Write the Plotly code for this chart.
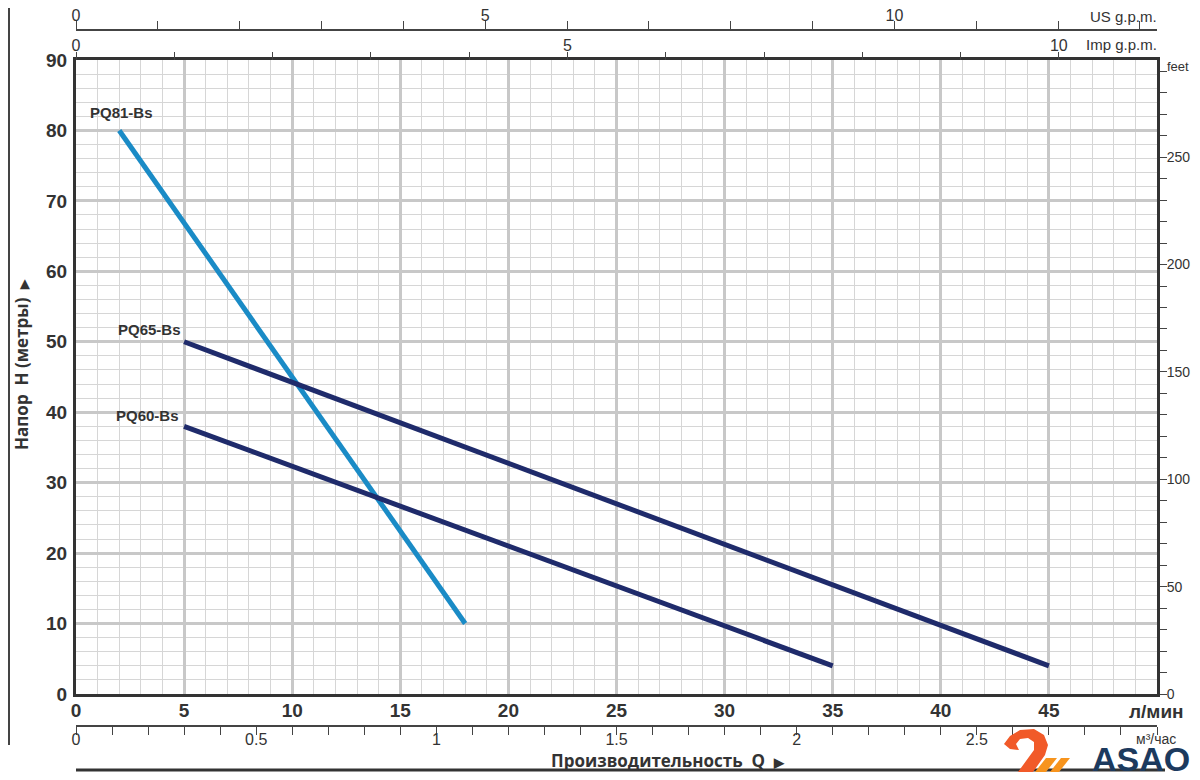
import plotly.graph_objects as go

# ---- data ----
pq81_q = [2, 18]
pq81_h = [80, 10]
pq65_q = [5, 45]
pq65_h = [50, 4]
pq60_q = [5, 35]
pq60_h = [38, 4]
series_names = ["PQ81-Bs", "PQ65-Bs", "PQ60-Bs"]

x_ticks = [0, 5, 10, 15, 20, 25, 30, 35, 40, 45]
y_ticks = [0, 10, 20, 30, 40, 50, 60, 70, 80, 90]
m3h_ticks = [0, 0.5, 1, 1.5, 2, 2.5]
m3h_text = ["0", "0.5", "1", "1.5", "2", "2.5"]
feet_ticks = [0, 50, 100, 150, 200, 250]

Q_MAX = 50.0
H_MAX = 90.0
L_PER_USG = 3.78541
L_PER_IMPG = 4.54609
FT_PER_M = 3.28084

# ---- layout helpers (target window pixels -> paper) ----
OFF = 8  # page body margin
W, H = 1200 - OFF, 780 - 2 * OFF
ML = 76 - OFF
MR = W - (1157 - OFF)
MT, MB = 2, 2
PW, PH = W - ML - MR, H - MT - MB


def px(x):
    return (x - OFF - ML) / PW


def py(y):
    return (H - MB - (y - OFF)) / PH


NARROW = "Liberation Sans Narrow, Liberation Sans, Arial, sans-serif"
TXT = "#333333"
LIGHT_BLUE = "#1a8bc6"
NAVY = "#1f2b6b"

fig = go.Figure()
fig.add_trace(go.Scatter(x=pq81_q, y=pq81_h, mode="lines", name=series_names[0],
                         line=dict(color=LIGHT_BLUE, width=5), showlegend=False))
fig.add_trace(go.Scatter(x=pq65_q, y=pq65_h, mode="lines", name=series_names[1],
                         line=dict(color=NAVY, width=5), showlegend=False))
fig.add_trace(go.Scatter(x=pq60_q, y=pq60_h, mode="lines", name=series_names[2],
                         line=dict(color=NAVY, width=5), showlegend=False))
# invisible traces to activate secondary axes
for xa, ya in [("x2", "y"), ("x3", "y"), ("x4", "y"), ("x", "y2")]:
    fig.add_trace(go.Scatter(x=[0], y=[0], xaxis=xa, yaxis=ya, mode="markers",
                             marker=dict(opacity=0), showlegend=False, hoverinfo="skip"))

y_dom = [py(694), py(60)]

sec_tickfont = dict(family=NARROW, size=16, color=TXT)

fig.update_layout(
    template="none",
    width=W, height=H,
    margin=dict(l=ML, r=MR, t=MT, b=MB, autoexpand=False),
    paper_bgcolor="white", plot_bgcolor="white",
    xaxis=dict(domain=[0, 1], range=[0, Q_MAX], tickvals=x_ticks, showgrid=True,
               gridcolor="#c8c8c8", gridwidth=2.5,
               minor=dict(dtick=1, showgrid=True, gridcolor="#d6d6d6", gridwidth=1),
               showline=True, linecolor="#333333", linewidth=3, mirror=True,
               ticks="", zeroline=False, automargin=False, ticklabelstandoff=-3,
               tickfont=dict(family=NARROW, size=19, color=TXT, weight="bold")),
    yaxis=dict(domain=y_dom, range=[0, H_MAX], tickvals=y_ticks, showgrid=True,
               gridcolor="#c8c8c8", gridwidth=2.5,
               minor=dict(dtick=2, showgrid=True, gridcolor="#d6d6d6", gridwidth=1),
               showline=True, linecolor="#333333", linewidth=3, mirror=True,
               ticks="", zeroline=False, automargin=False, ticklabelstandoff=2,
               tickfont=dict(family=NARROW, size=19, color=TXT, weight="bold")),
    # US g.p.m. (top)
    xaxis2=dict(overlaying="x", anchor="free", position=py(30), side="top",
                range=[0, Q_MAX / L_PER_USG], tickvals=[0, 5, 10], ticks="outside",
                ticklen=8, tickcolor="#444", showgrid=False, zeroline=False,
                minor=dict(dtick=1, ticks="outside", ticklen=8, tickcolor="#444", showgrid=False),
                showline=True, linecolor="#444", linewidth=1.5, automargin=False,
                ticklabelstandoff=-6, tickfont=sec_tickfont),
    # Imp g.p.m. (top of plot)
    xaxis3=dict(overlaying="x", anchor="free", position=py(60), side="top",
                range=[0, Q_MAX / L_PER_IMPG], tickvals=[0, 5, 10], ticks="outside",
                ticklen=8, tickcolor="#444", showgrid=False, zeroline=False,
                minor=dict(dtick=1, ticks="outside", ticklen=8, tickcolor="#444", showgrid=False),
                showline=False, automargin=False, ticklabelstandoff=-5,
                tickfont=sec_tickfont),
    # m3/h (below)
    xaxis4=dict(overlaying="x", anchor="free", position=py(726), side="bottom",
                range=[0, Q_MAX * 0.06], tickvals=m3h_ticks, ticktext=m3h_text,
                ticks="outside", ticklen=8, tickcolor="#444", showgrid=False, zeroline=False,
                minor=dict(dtick=0.1, ticks="outside", ticklen=8, tickcolor="#444", showgrid=False),
                showline=True, linecolor="#444", linewidth=1.5, automargin=False,
                ticklabelstandoff=-9, tickfont=sec_tickfont),
    # feet (right)
    yaxis2=dict(overlaying="y", side="right", anchor="x",
                range=[0, H_MAX * FT_PER_M], tickvals=feet_ticks, ticks="outside",
                ticklen=7, tickcolor="#444", showgrid=False, zeroline=False,
                minor=dict(dtick=10, ticks="outside", ticklen=7, tickcolor="#444", showgrid=False),
                showline=True, linecolor="#333333", linewidth=3, automargin=False,
                ticklabelstandoff=-3, tickfont=dict(family=NARROW, size=14, color=TXT)),
)

ann = []
lab_font = dict(family=NARROW, size=15, color=TXT, weight="bold")
ann.append(dict(x=pq81_q[0], y=pq81_h[0], xref="x", yref="y", text=series_names[0],
                showarrow=False, xanchor="center", yanchor="bottom", yshift=7, xshift=2,
                font=lab_font))
ann.append(dict(x=pq65_q[0], y=pq65_h[0], xref="x", yref="y", text=series_names[1],
                showarrow=False, xanchor="right", yanchor="bottom", yshift=2, xshift=-1,
                font=lab_font))
ann.append(dict(x=pq60_q[0], y=pq60_h[0], xref="x", yref="y", text=series_names[2],
                showarrow=False, xanchor="right", yanchor="bottom", yshift=0, xshift=-3,
                font=lab_font))
# unit labels
ann.append(dict(x=px(1159), y=py(16), xref="paper", yref="paper", text="US g.p.m.",
                showarrow=False, xanchor="right", yanchor="middle",
                font=dict(family=NARROW, size=15, color=TXT)))
ann.append(dict(x=px(1159), y=py(45), xref="paper", yref="paper", text="Imp g.p.m.",
                showarrow=False, xanchor="right", yanchor="middle",
                font=dict(family=NARROW, size=15, color=TXT)))
ann.append(dict(x=px(1165), y=py(66), xref="paper", yref="paper", text="feet",
                showarrow=False, xanchor="left", yanchor="middle",
                font=dict(family=NARROW, size=13, color=TXT)))
ann.append(dict(x=px(1186), y=py(711), xref="paper", yref="paper", text="л/мин",
                showarrow=False, xanchor="right", yanchor="middle",
                font=dict(family=NARROW, size=19, color=TXT, weight="bold")))
ann.append(dict(x=px(1178), y=py(739), xref="paper", yref="paper", text="м³/час",
                showarrow=False, xanchor="right", yanchor="middle",
                font=dict(family=NARROW, size=14, color=TXT)))
# axis titles
ann.append(dict(x=px(668), y=py(760), xref="paper", yref="paper",
                text="Производительность  Q  <span style='font-size:13px'>▶</span>",
                showarrow=False, xanchor="center", yanchor="middle",
                font=dict(family="Open Sans, Noto Sans, sans-serif", size=17, color=TXT,
                          weight="bold")))
ann.append(dict(x=px(22), y=py(365), xref="paper", yref="paper",
                text="Напор  H (метры)  <span style='font-size:12px'>▶</span>", textangle=-90,
                showarrow=False, xanchor="center", yanchor="middle",
                font=dict(family="Open Sans, Noto Sans, sans-serif", size=17, color=TXT,
                          weight="bold")))
# logo text
ann.append(dict(x=px(1192), y=py(759), xref="paper", yref="paper", text="ASAO",
                showarrow=False, xanchor="right", yanchor="middle",
                font=dict(family="Liberation Sans, Arial, sans-serif", size=34,
                          color="#1c3a5e", weight="bold")))

shapes = []
# left frame line and bottom rule
shapes.append(dict(type="line", xref="paper", yref="paper", x0=px(9), x1=px(9),
                   y0=py(8), y1=py(745), line=dict(color="#444", width=2)))
shapes.append(dict(type="line", xref="paper", yref="paper", x0=px(76), x1=px(1165),
                   y0=py(770), y1=py(770), line=dict(color="#333", width=3)))


def path(pts, close=True):
    s = "M " + " L ".join(f"{px(a):.5f},{py(b):.5f}" for a, b in pts)
    return s + (" Z" if close else "")


# logo swan hook (orange)
shapes.append(dict(type="path", xref="paper", yref="paper",
                   path=path([(1004, 744), (1010, 736), (1020, 730), (1034, 729), (1044, 735),
                              (1048, 745), (1045, 755), (1033, 772), (1018, 772),
                              (1034, 750), (1034, 742), (1028, 738), (1020, 739),
                              (1016, 744), (1019, 750), (1010, 749)]),
                   fillcolor="#f15a29", line=dict(width=0)))
shapes.append(dict(type="path", xref="paper", yref="paper",
                   path=path([(1035, 772), (1046, 758), (1057, 758), (1046, 772)]),
                   fillcolor="#f7941d", line=dict(width=0)))
shapes.append(dict(type="path", xref="paper", yref="paper",
                   path=path([(1050, 772), (1061, 758), (1070, 758), (1059, 772)]),
                   fillcolor="#f7941d", line=dict(width=0)))

fig.update_layout(annotations=ann, shapes=shapes)
fig.write_html("out.html")
